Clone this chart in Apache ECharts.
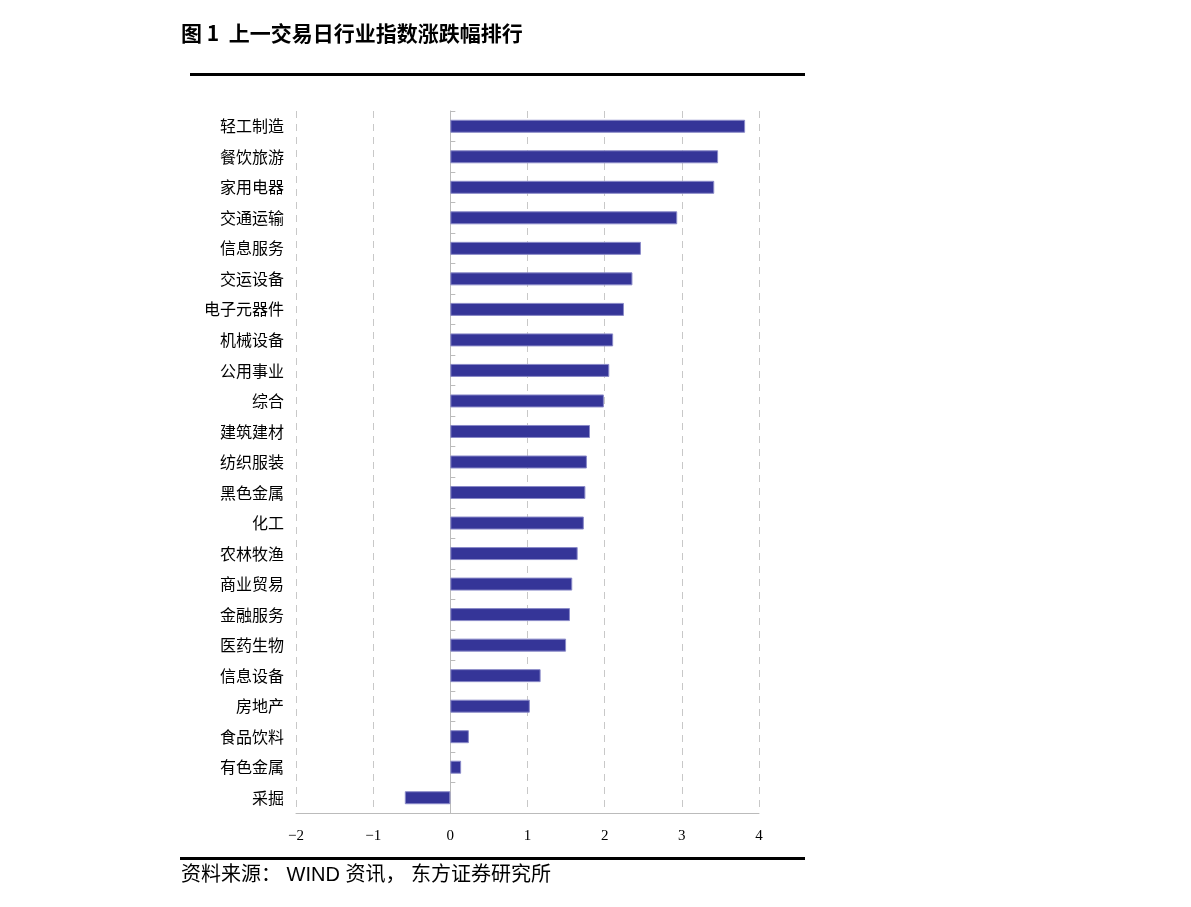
<!DOCTYPE html>
<html>
<head>
<meta charset="utf-8">
<script src="https://cdn.jsdelivr.net/npm/echarts@6/dist/echarts.min.js"></script>
<style>
  html, body { margin: 0; padding: 0; background: #fff; }
  #chart { width: 1191px; height: 907px; }
</style>
</head>
<body>
<div id="chart"></div>
<script>
// 行业名称（从上到下）
const industries = ['轻工制造', '餐饮旅游', '家用电器', '交通运输', '信息服务', '交运设备', '电子元器件', '机械设备',
  '公用事业', '综合', '建筑建材', '纺织服装', '黑色金属', '化工', '农林牧渔', '商业贸易', '金融服务', '医药生物',
  '信息设备', '房地产', '食品饮料', '有色金属', '采掘']
// 涨跌幅（%）
const changes = [3.82, 3.47, 3.42, 2.94, 2.47, 2.36, 2.25, 2.11, 2.06, 1.99, 1.81, 1.77, 1.75, 1.73, 1.65, 1.58,
  1.55, 1.50, 1.17, 1.03, 0.24, 0.14, -0.59]
const xTicks = [-2, -1, 0, 1, 2, 3, 4]

const chart = echarts.init(document.getElementById('chart'))
const cjk = '"Noto Sans CJK SC", sans-serif'
const serif = '"Liberation Serif", "DejaVu Serif", serif'

chart.setOption({
  animation: false,
  grid: {
    left: 296,
    width: 463,
    top: 111,
    height: 702,
    containLabel: false
  },
  graphic: [
    {
      type: 'text',
      left: 181,
      top: 23,
      style: { text: '图 1  上一交易日行业指数涨跌幅排行', font: 'bold 21px ' + cjk, fill: '#000' }
    },
    {
      type: 'rect',
      shape: { x: 190, y: 73, width: 615, height: 3 },
      style: { fill: '#000' }
    },
    {
      type: 'rect',
      shape: { x: 180, y: 857, width: 625, height: 3 },
      style: { fill: '#000' }
    },
    {
      type: 'text',
      left: 181,
      top: 865,
      style: {
        text: '资料来源： WIND 资讯， 东方证券研究所',
        font: '20px "Liberation Sans", "Noto Sans CJK SC", sans-serif',
        fill: '#000'
      }
    }
  ],
  xAxis: {
    type: 'value',
    min: xTicks[0],
    max: xTicks[xTicks.length - 1],
    interval: 1,
    axisLine: { show: true, lineStyle: { color: '#bbb', width: 1 } },
    axisTick: { show: false },
    axisLabel: {
      margin: 16,
      color: '#000',
      fontFamily: serif,
      fontSize: 15,
      formatter: v => (v < 0 ? '\u2212' + Math.abs(v) : String(v))
    },
    splitLine: {
      show: true,
      lineStyle: { color: '#c8c8c8', type: [7, 6], width: 1 }
    }
  },
  yAxis: [
    {
      type: 'category',
      data: industries,
      inverse: true,
      position: 'left',
      axisLine: { show: false, onZero: false },
      axisTick: { show: false },
      axisLabel: {
        margin: 12,
        color: '#000',
        fontFamily: cjk,
        fontSize: 16
      }
    },
    {
      type: 'category',
      data: industries,
      inverse: true,
      axisLine: { show: true, onZero: true, lineStyle: { color: '#bbb', width: 1 } },
      axisTick: { show: true, inside: false, length: 5, lineStyle: { color: '#bbb' } },
      axisLabel: { show: false }
    }
  ],
  series: [
    {
      type: 'bar',
      yAxisIndex: 0,
      data: changes,
      barWidth: 13,
      itemStyle: {
        color: '#353598',
        borderColor: '#8a8ac8',
        borderWidth: 1
      }
    }
  ]
})
</script>
</body>
</html>
